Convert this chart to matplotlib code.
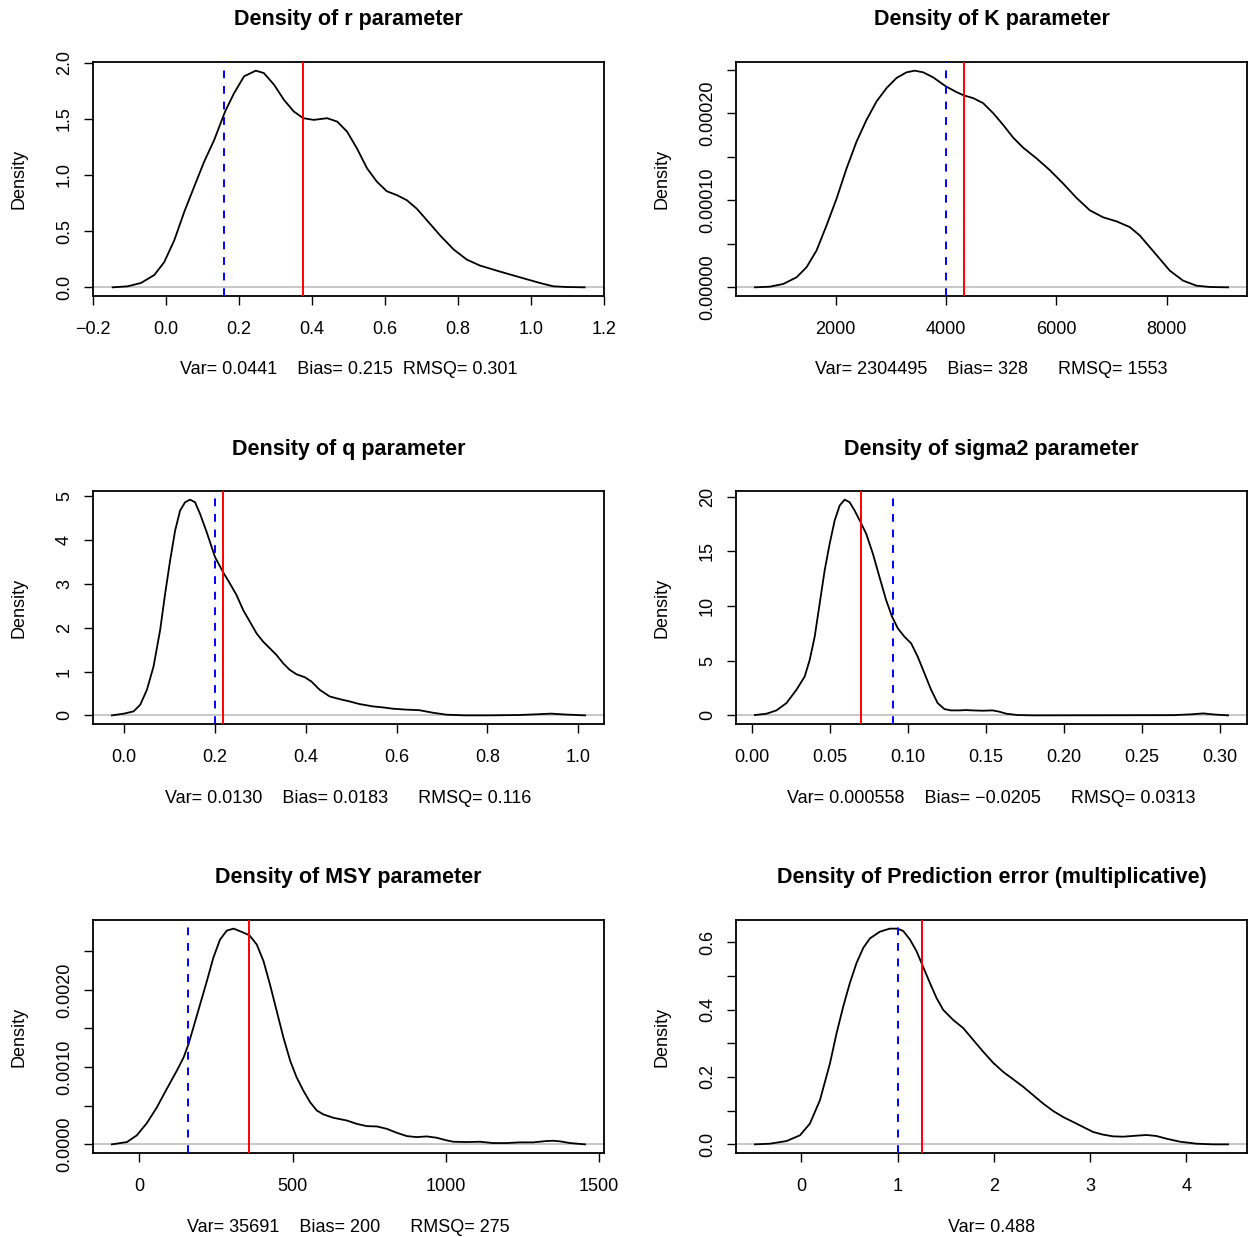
import numpy as np
import matplotlib
matplotlib.use("Agg")
import matplotlib.pyplot as plt

plt.rcParams['font.family'] = ['Liberation Sans', 'DejaVu Sans']

# density curves (x, density)
r_x = [-0.146, -0.105, -0.0685, -0.032, -0.005, 0.0225, 0.050, 0.077, 0.1045, 0.132, 0.162,
       0.1865, 0.214, 0.246, 0.268, 0.296, 0.323, 0.350, 0.376, 0.405, 0.4415, 0.469, 0.496,
       0.523, 0.551, 0.578, 0.605, 0.633, 0.660, 0.687, 0.715, 0.751, 0.788, 0.824, 0.860,
       0.915, 0.970, 1.024, 1.061, 1.097, 1.147]
r_y = [0.0, 0.009, 0.039, 0.110, 0.224, 0.417, 0.671, 0.894, 1.118, 1.311, 1.565,
       1.728, 1.878, 1.928, 1.907, 1.803, 1.669, 1.565, 1.505, 1.490, 1.505, 1.475, 1.386,
       1.237, 1.058, 0.939, 0.855, 0.820, 0.775, 0.700, 0.596, 0.462, 0.337, 0.247, 0.194,
       0.140, 0.089, 0.039, 0.009, 0.003, 0.0]

K_x = [539, 811, 1052, 1294, 1475, 1656, 1838, 2019, 2200, 2381, 2562, 2744, 2925, 3106,
       3287, 3438, 3589, 3770, 4000, 4193, 4326, 4495, 4676, 4858, 5039, 5220, 5401, 5643,
       5884, 6126, 6368, 6609, 6851, 7092, 7334, 7515, 7696, 7878, 8059, 8300, 8542, 8784, 9116]
K_y = [0.0, 7.7e-7, 3.85e-6, 1.154e-5, 2.31e-5, 4.23e-5, 7.12e-5, 1.019e-4, 1.365e-4,
       1.673e-4, 1.923e-4, 2.135e-4, 2.288e-4, 2.404e-4, 2.469e-4, 2.488e-4, 2.469e-4,
       2.411e-4, 2.308e-4, 2.242e-4, 2.204e-4, 2.173e-4, 2.115e-4, 2.0e-4, 1.865e-4,
       1.719e-4, 1.604e-4, 1.481e-4, 1.346e-4, 1.192e-4, 1.027e-4, 8.85e-5, 8.04e-5,
       7.58e-5, 6.92e-5, 5.96e-5, 4.62e-5, 3.27e-5, 1.92e-5, 7.7e-6, 1.9e-6, 4e-7, 0.0]

q_x = [-0.027, -0.0013, 0.0207, 0.0353, 0.050, 0.0646, 0.0792, 0.0902, 0.1012, 0.1122,
       0.1231, 0.1341, 0.1451, 0.1561, 0.1671, 0.1817, 0.2, 0.2176, 0.2329, 0.2476, 0.2622,
       0.2769, 0.2915, 0.3061, 0.3208, 0.3354, 0.3501, 0.3647, 0.3793, 0.3976, 0.4123,
       0.4306, 0.4525, 0.4745, 0.4965, 0.5184, 0.5477, 0.5697, 0.5916, 0.62, 0.65, 0.68,
       0.71, 0.75, 0.80, 0.87, 0.91, 0.94, 0.97, 1.015]
q_y = [0.0, 0.038, 0.091, 0.242, 0.583, 1.114, 1.947, 2.78, 3.538, 4.22,
       4.674, 4.864, 4.924, 4.864, 4.599, 4.182, 3.614, 3.273, 3.008, 2.742, 2.40,
       2.136, 1.871, 1.682, 1.530, 1.379, 1.189, 1.038, 0.939, 0.871, 0.773,
       0.583, 0.432, 0.371, 0.318, 0.258, 0.205, 0.182, 0.152, 0.132, 0.118, 0.06,
       0.015, 0.0, 0.0, 0.008, 0.025, 0.04, 0.02, 0.0]

s_x = [0.0018, 0.0092, 0.0156, 0.0220, 0.0284, 0.0337, 0.0369, 0.0401, 0.0433, 0.0465,
       0.0497, 0.0529, 0.0561, 0.0593, 0.0625, 0.0657, 0.0695, 0.0731, 0.0774, 0.0816,
       0.0859, 0.0897, 0.0934, 0.0976, 0.1019, 0.1061, 0.1104, 0.1147, 0.1189, 0.1232,
       0.1274, 0.1328, 0.1370, 0.1413, 0.1477, 0.1541, 0.158, 0.163, 0.17, 0.18,
       0.27, 0.282, 0.289, 0.296, 0.305]
s_y = [0.03, 0.15, 0.455, 1.123, 2.338, 3.552, 5.07, 7.195, 10.23, 13.27,
       15.70, 17.82, 19.19, 19.73, 19.49, 18.73, 17.67, 16.61, 14.78, 12.66,
       10.53, 9.02, 7.95, 7.195, 6.59, 5.37, 3.86, 2.338, 1.123, 0.577,
       0.455, 0.455, 0.485, 0.455, 0.425, 0.455, 0.35, 0.15, 0.03, 0.0,
       0.02, 0.1, 0.18, 0.08, 0.0]

m_x = [-90, -41, -9, 24, 57, 89, 122, 144, 160, 176, 198, 220, 241, 263, 285, 307, 329, 359,
       383, 405, 426, 448, 470, 492, 513, 535, 557, 579, 601, 633, 677, 709, 742, 775, 807,
       840, 873, 905, 938, 970, 1003, 1025, 1068, 1112, 1155, 1199, 1242, 1286, 1329, 1351,
       1373, 1406, 1455]
m_y = [0.0, 3.0e-5, 1.16e-4, 2.75e-4, 4.81e-4, 7.17e-4, 9.54e-4, 1.125e-3, 1.297e-3,
       1.512e-3, 1.813e-3, 2.113e-3, 2.414e-3, 2.650e-3, 2.766e-3, 2.792e-3, 2.758e-3,
       2.706e-3, 2.586e-3, 2.371e-3, 2.071e-3, 1.727e-3, 1.383e-3, 1.083e-3, 8.68e-4,
       6.96e-4, 5.46e-4, 4.38e-4, 3.87e-4, 3.44e-4, 3.09e-4, 2.66e-4, 2.36e-4, 2.32e-4,
       2.02e-4, 1.50e-4, 1.07e-4, 9.4e-5, 1.03e-4, 8.6e-5, 5.2e-5, 3.4e-5, 3.0e-5, 3.4e-5,
       1.7e-5, 1.7e-5, 2.6e-5, 2.6e-5, 4.3e-5, 4.7e-5, 3.9e-5, 1.7e-5, 0.0]

p_x = [-0.481, -0.325, -0.152, -0.014, 0.090, 0.194, 0.298, 0.367, 0.436, 0.505, 0.574,
       0.644, 0.713, 0.817, 0.920, 1.0, 1.059, 1.128, 1.197, 1.256, 1.336, 1.405, 1.474,
       1.578, 1.682, 1.785, 1.889, 1.993, 2.097, 2.201, 2.304, 2.408, 2.512, 2.616, 2.720,
       2.823, 2.927, 3.031, 3.135, 3.239, 3.342, 3.481, 3.585, 3.688, 3.792, 3.931, 4.104,
       4.277, 4.432]
p_y = [0.0, 0.002, 0.0099, 0.0268, 0.0616, 0.131, 0.240, 0.330, 0.409, 0.479, 0.538,
       0.583, 0.611, 0.631, 0.640, 0.640, 0.633, 0.608, 0.573, 0.533, 0.479, 0.434, 0.399,
       0.369, 0.345, 0.310, 0.275, 0.242, 0.215, 0.193, 0.171, 0.146, 0.121, 0.099, 0.081,
       0.0665, 0.0516, 0.0367, 0.0288, 0.0238, 0.0228, 0.0258, 0.0278, 0.0248, 0.0169,
       0.0080, 0.002, 0.0, 0.0]

titles = ["Density of r parameter", "Density of K parameter",
          "Density of q parameter", "Density of sigma2 parameter",
          "Density of MSY parameter", "Density of Prediction error (multiplicative)"]
subtitles = ["Var= 0.0441    Bias= 0.215  RMSQ= 0.301",
             "Var= 2304495    Bias= 328      RMSQ= 1553",
             "Var= 0.0130    Bias= 0.0183      RMSQ= 0.116",
             "Var= 0.000558    Bias= \u22120.0205      RMSQ= 0.0313",
             "Var= 35691    Bias= 200      RMSQ= 275",
             "Var= 0.488"]
# true value (blue dashed) and estimate (red)
true_vals = [0.16, 4000, 0.20, 0.09, 159, 1.0]
est_vals = [0.376, 4328, 0.2183, 0.0695, 359, 1.256]

xticks = [np.arange(-0.2, 1.21, 0.2), [2000, 4000, 6000, 8000], np.arange(0, 1.01, 0.2),
          np.arange(0, 0.301, 0.05), [0, 500, 1000, 1500], [0, 1, 2, 3, 4]]
xlabels = [["\u22120.2", "0.0", "0.2", "0.4", "0.6", "0.8", "1.0", "1.2"],
           ["2000", "4000", "6000", "8000"],
           ["0.0", "0.2", "0.4", "0.6", "0.8", "1.0"],
           ["0.00", "0.05", "0.10", "0.15", "0.20", "0.25", "0.30"],
           ["0", "500", "1000", "1500"],
           ["0", "1", "2", "3", "4"]]
yticks = [np.arange(0, 2.01, 0.5), np.arange(0, 0.000251, 0.00005), np.arange(0, 5.1, 1),
          np.arange(0, 20.1, 5), np.arange(0, 0.00251, 0.0005), np.arange(0, 0.61, 0.1)]
ylabels = [["0.0", "0.5", "1.0", "1.5", "2.0"],
           ["0.00000", "", "0.00010", "", "0.00020", ""],
           ["0", "1", "2", "3", "4", "5"],
           ["0", "5", "10", "15", "20"],
           ["0.0000", "", "0.0010", "", "0.0020", ""],
           ["0.0", "", "0.2", "", "0.4", "", "0.6"]]

curves = [(r_x, r_y), (K_x, K_y), (q_x, q_y), (s_x, s_y), (m_x, m_y), (p_x, p_y)]

W, H = 1249, 1237
fig = plt.figure(figsize=(W / 100, H / 100), dpi=100)

col_px = [(93, 604), (736, 1247)]
row_px = [(62, 296), (491, 724), (920, 1153)]


def rlim(v):
    # R style 4% padding
    lo, hi = min(v), max(v)
    d = 0.04 * (hi - lo)
    return lo - d, hi + d


for i in range(6):
    c0, c1 = col_px[i % 2]
    r0, r1 = row_px[i // 2]
    ax = fig.add_axes([c0 / W, 1 - r1 / H, (c1 - c0) / W, (r1 - r0) / H])
    x, y = curves[i]
    ax.axhline(0, color="#bebebe", lw=1.2, zorder=1)
    ax.plot(x, y, color="black", lw=1.3, zorder=2, solid_joinstyle="round")
    ax.axvline(true_vals[i], color="#0000ff", lw=1.4, ls=(0, (4, 4)), zorder=3)
    ax.axvline(est_vals[i], color="#ff0000", lw=1.4, zorder=3)
    ax.set_xlim(rlim(x))
    ax.set_ylim(rlim([0] + list(y)))
    ax.set_xticks(xticks[i])
    ax.set_xticklabels(xlabels[i])
    ax.set_yticks(yticks[i])
    ax.set_yticklabels(ylabels[i], rotation=90, va="center")
    ax.tick_params(direction="out", length=6.5, width=1.0, labelsize=13, colors="black")
    ax.tick_params(axis="x", pad=11.5)
    ax.tick_params(axis="y", pad=8)
    for sp in ax.spines.values():
        sp.set_linewidth(1.3)
    hpx = r1 - r0
    wpx = c1 - c0
    ax.text(0.5, 1 + 42 / hpx, titles[i], transform=ax.transAxes, ha="center", va="center",
            fontsize=15.5, fontweight="bold")
    ax.text(0.5, -74 / hpx, subtitles[i], transform=ax.transAxes, ha="center", va="center",
            fontsize=13)
    ax.text(-74 / wpx, 0.5, "Density", transform=ax.transAxes, ha="center", va="center",
            rotation=90, fontsize=13)

fig.savefig("out.png", dpi=100)
